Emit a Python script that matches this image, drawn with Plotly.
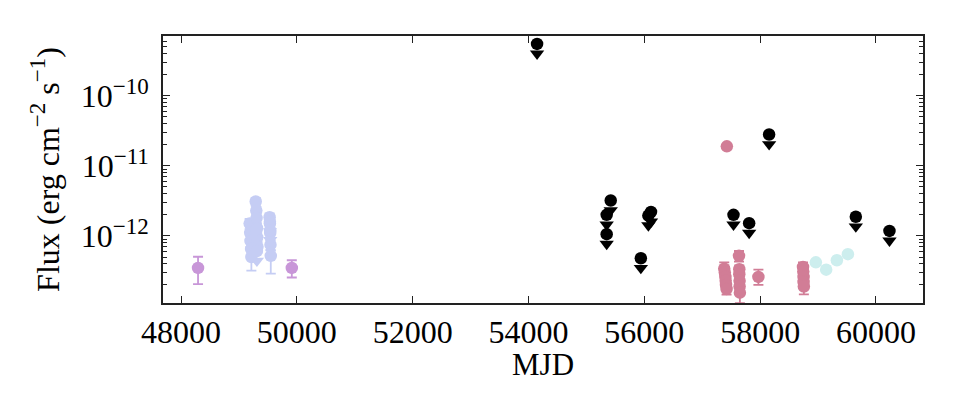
import numpy as np
import plotly.graph_objects as go

BLACK = '#000000'
LAVENDER = '#c5cdf4'
VIOLET = '#c896d8'
PINK = '#d17d96'
CYAN = '#cdeeee'

FONT = 'Liberation Serif'

# early detections (violet)
violet_mjd = [48294, 49913]
violet_flux = [3.5e-13, 3.5e-13]
violet_lo = [2.05e-13, 2.55e-13]
violet_hi = [5.05e-13, 4.5e-13]

# lavender detections
lav_mjd = [49185, 49195, 49200, 49210, 49215,
           49290, 49300, 49305, 49310, 49315, 49320,
           49530, 49535, 49540, 49545, 49550]
lav_flux = [1.5e-12, 1.1e-12, 8.5e-13, 6.5e-13, 5.0e-13,
            3.1e-12, 2.3e-12, 1.8e-12, 1.3e-12, 9.5e-13, 7.0e-13,
            1.85e-12, 1.5e-12, 1.1e-12, 7.5e-13, 5.2e-13]
lav_lo = [1.25e-12, 9.0e-13, 7.0e-13, 5.3e-13, 3.2e-13,
          2.7e-12, 2.0e-12, 1.55e-12, 1.1e-12, 8.0e-13, 5.8e-13,
          1.6e-12, 1.3e-12, 9.5e-13, 6.3e-13, 2.9e-13]
lav_hi = [1.75e-12, 1.3e-12, 1.0e-12, 7.7e-13, 6.0e-13,
          3.5e-12, 2.6e-12, 2.1e-12, 1.5e-12, 1.1e-12, 8.3e-13,
          2.1e-12, 1.7e-12, 1.25e-12, 8.7e-13, 6.2e-13]

# lavender upper limits
lav_ul_mjd = [49305, 49310, 49535, 49540]
lav_ul_flux = [1.25e-12, 6.1e-13, 1.6e-12, 1.2e-12]

# pink detections
pink_mjd = [57380, 57390, 57400, 57405, 57410, 57420,
            57425,
            57635, 57640, 57640, 57645, 57645, 57650,
            57970,
            58740, 58745, 58750, 58750, 58755]
pink_flux = [3.4e-13, 3.0e-13, 2.6e-13, 2.3e-13, 2.0e-13, 1.75e-13,
             1.9e-11,
             5.2e-13, 3.35e-13, 2.85e-13, 2.3e-13, 1.9e-13, 1.55e-13,
             2.6e-13,
             3.6e-13, 3.1e-13, 2.6e-13, 2.2e-13, 1.9e-13]
pink_lo = [2.9e-13, 2.6e-13, 2.2e-13, 1.95e-13, 1.7e-13, 1.45e-13,
           1.9e-11,
           4.3e-13, 2.9e-13, 2.4e-13, 1.9e-13, 1.6e-13, 1.1e-13,
           2.0e-13,
           3.1e-13, 2.7e-13, 2.2e-13, 1.85e-13, 1.47e-13]
pink_hi = [4.2e-13, 3.5e-13, 3.0e-13, 2.7e-13, 2.4e-13, 2.1e-13,
           1.9e-11,
           6.1e-13, 3.8e-13, 3.3e-13, 2.7e-13, 2.2e-13, 1.9e-13,
           3.3e-13,
           4.2e-13, 3.5e-13, 3.0e-13, 2.6e-13, 2.2e-13]

# cyan detections
cyan_mjd = [58962, 59140, 59325, 59515]
cyan_flux = [4.2e-13, 3.3e-13, 4.5e-13, 5.5e-13]

# black upper limits
ul_mjd = [54148, 55420, 55350, 55350, 55940, 56070, 56115,
          57540, 57810, 58155, 59652, 60233]
ul_flux = [5.5e-10, 3.2e-12, 2.0e-12, 1.06e-12, 4.8e-13, 1.95e-12, 2.2e-12,
           2.0e-12, 1.52e-12, 2.8e-11, 1.88e-12, 1.18e-12]

SUP = '<sup><span style="font-size:23px">{}</span></sup>'

# y tick labels
y_tickvals = [1e-12, 1e-11, 1e-10]
y_ticktext = ['10' + SUP.format('−12'), '10' + SUP.format('−11'), '10' + SUP.format('−10')]
y_minor = [k * 10.0 ** e for e in range(-13, -9) for k in range(2, 10)]

ARROW_SHIFT = 10 ** -0.14


def detections(fig, x, y, lo, hi, color):
    y = np.array(y)
    fig.add_trace(go.Scatter(
        x=x, y=y, mode='markers',
        marker=dict(symbol='circle', size=12.5, color=color),
        error_y=dict(type='data', symmetric=False,
                     array=np.array(hi) - y, arrayminus=y - np.array(lo),
                     color=color, thickness=1.8, width=5),
        showlegend=False))


def upper_limits(fig, x, y, color):
    y = np.array(y)
    fig.add_trace(go.Scatter(
        x=x, y=y * ARROW_SHIFT, mode='markers',
        marker=dict(symbol='triangle-down', size=12.5, color=color),
        showlegend=False))
    fig.add_trace(go.Scatter(
        x=x, y=y, mode='markers',
        marker=dict(symbol='circle', size=12.5, color=color),
        showlegend=False))


fig = go.Figure()
detections(fig, violet_mjd, violet_flux, violet_lo, violet_hi, VIOLET)
detections(fig, lav_mjd, lav_flux, lav_lo, lav_hi, LAVENDER)
upper_limits(fig, lav_ul_mjd, lav_ul_flux, LAVENDER)
detections(fig, pink_mjd, pink_flux, pink_lo, pink_hi, PINK)
fig.add_trace(go.Scatter(x=cyan_mjd, y=cyan_flux, mode='markers',
                         marker=dict(symbol='circle', size=12.5, color=CYAN),
                         showlegend=False))
upper_limits(fig, ul_mjd, ul_flux, BLACK)

axis_common = dict(showline=True, linecolor='#222', linewidth=1.5, mirror='ticks',
                   ticks='inside', ticklen=7, tickwidth=1.2, tickcolor='#222',
                   showgrid=False, zeroline=False, automargin=False,
                   tickfont=dict(family=FONT, size=32, color='black'))

fig.update_xaxes(range=[47689, 60812], dtick=2000, tick0=0, tickformat='d',
                 **axis_common)
fig.update_yaxes(type='log', range=[-12.957, -9.147],
                 tickmode='array', tickvals=y_tickvals, ticktext=y_ticktext,
                 ticklabelstandoff=6,
                 minor=dict(ticks='inside', ticklen=4, tickcolor='#222', showgrid=False,
                            tickmode='array', tickvals=y_minor),
                 title=dict(text='Flux (erg cm' + SUP.format('−2') + ' s' + SUP.format('−1') + ')',
                            font=dict(family=FONT, size=32, color='black'), standoff=12),
                 **axis_common)

# x-axis title placed as an annotation so it can sit closer to the tick labels
fig.add_annotation(text='MJD', xref='paper', yref='paper', x=0.5, y=-0.23,
                   xanchor='center', yanchor='middle', showarrow=False,
                   font=dict(family=FONT, size=31, color='black'))

# page body adds an 8px offset, so margins are shifted accordingly
fig.update_layout(width=960, height=420, margin=dict(l=155, r=45, t=28, b=125),
                  plot_bgcolor='white', paper_bgcolor='white')

fig.write_html('out.html')
